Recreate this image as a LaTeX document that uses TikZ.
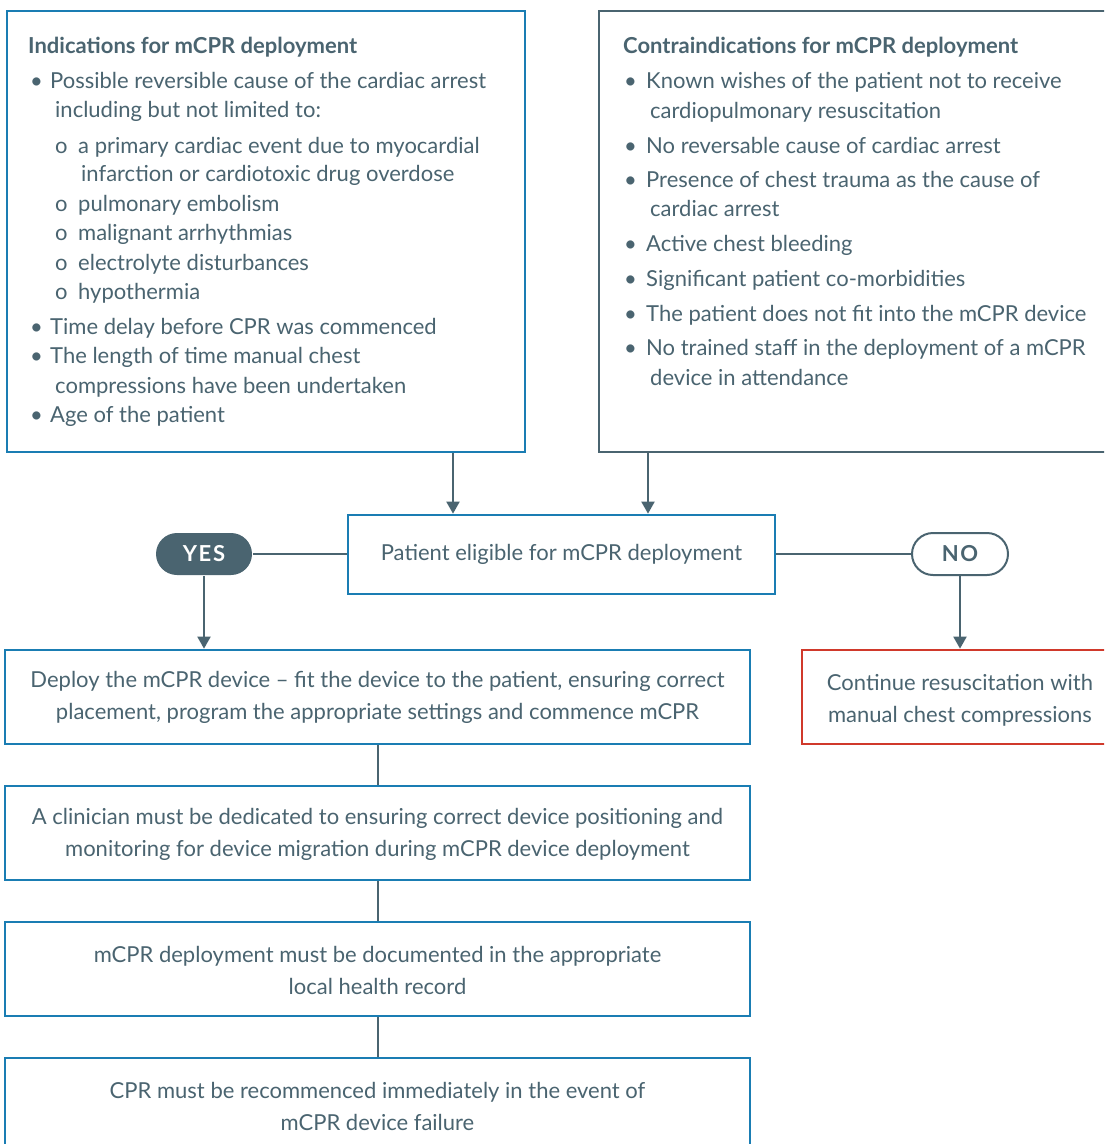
\documentclass[tikz,border=0pt]{standalone}
\usepackage{fontspec}
\setmainfont{Lato}
\newfontfamily\pillfont[LetterSpace=8]{Lato}
\usetikzlibrary{arrows.meta}
\definecolor{slate}{HTML}{4A6470}
\definecolor{bluebd}{HTML}{1A7DB3}
\definecolor{redbd}{HTML}{D0392B}
\tikzset{
  txt/.style={text=slate, font=\fontsize{22}{26}\selectfont, inner sep=0pt, anchor=base west},
  hd/.style={txt, font=\fontsize{22}{26}\selectfont\bfseries},
  bbox/.style={draw=bluebd, line width=2.7pt, inner sep=0pt},
  gbox/.style={draw=slate, line width=2.7pt, inner sep=0pt},
  rbox/.style={draw=redbd, line width=2.7pt, inner sep=0pt},
  ctext/.style={text=slate, font=\fontsize{22}{32}\selectfont, align=center, inner sep=0pt},
  conn/.style={draw=slate, line width=2pt},
  arr/.style={conn, -{Triangle[length=12pt,width=13pt]}},
  pill/.style={rounded corners=21pt, minimum width=96pt, minimum height=42pt, line width=2pt, font=\fontsize{22}{24}\pillfont\bfseries, inner sep=0pt},
}
\begin{document}
\begin{tikzpicture}[x=1pt,y=-1pt]
\clip (0,0) rectangle (1104,1144);
\fill[white] (0,0) rectangle (1104,1144);
% top boxes
\node[bbox, minimum width=518pt, minimum height=441pt] (ind) at (266,231.5) {};
\node[gbox, minimum width=511pt, minimum height=441pt] (contra) at (854.5,231.5) {};
% left text
\node[hd] (h1) at (28,53) {Indications for mCPR deployment};
\foreach \y/\t [count=\i] in {88/Possible reversible cause of the cardiac arrest, 334/Time delay before CPR was commenced, 363/The length of time manual chest, 422/Age of the patient}{
  \node[txt] (lb\i) at (30,\y) {•};
  \node[txt] (lt\i) at (50,\y) {\t};
}
\node[txt] (lc1) at (55,117) {including but not limited to:};
\node[txt] (lc2) at (55,393) {compressions have been undertaken};
\foreach \y/\t [count=\i] in {153/a primary cardiac event due to myocardial, 211/pulmonary embolism, 240/malignant arrhythmias, 270/electrolyte disturbances, 299/hypothermia}{
  \node[txt] (sb\i) at (55,\y) {o};
  \node[txt] (st\i) at (78,\y) {\t};
}
\node[txt] (sc1) at (81,181) {infarction or cardiotoxic drug overdose};
% right text
\node[hd] (h2) at (623,53) {Contraindications for mCPR deployment};
\foreach \y/\t [count=\i] in {88/Known wishes of the patient not to receive, 153/No reversable cause of cardiac arrest, 187/Presence of chest trauma as the cause of, 251/Active chest bleeding, 286/Significant patient co-morbidities, 321/The patient does not fit into the mCPR device, 355/No trained staff in the deployment of a mCPR}{
  \node[txt] (rb\i) at (624,\y) {•};
  \node[txt] (rt\i) at (646,\y) {\t};
}
\node[txt] (rc1) at (650,118) {cardiopulmonary resuscitation};
\node[txt] (rc2) at (650,216) {cardiac arrest};
\node[txt] (rc3) at (650,385) {device in attendance};
% decision
\node[bbox, minimum width=427pt, minimum height=79pt] (elig) at (561.5,554.5) {};
\node[ctext] (eligt) at (561.5,554) {Patient eligible for mCPR deployment};
\node[pill, fill=slate, text=white] (yes) at (204,554) {YES};
\node[pill, draw=slate, fill=white, text=slate] (no) at (960,554) {NO};
\coordinate (cx1) at (453,0);
\coordinate (cx2) at (648,0);
\draw[arr] (ind.south -| cx1) -- (elig.north -| cx1);
\draw[arr] (contra.south -| cx2) -- (elig.north -| cx2);
\draw[conn] (yes.east) -- (elig.west |- yes.east);
\draw[conn] (elig.east |- no.west) -- (no.west);
% lower boxes
\node[bbox, minimum width=745pt, minimum height=94pt] (dep) at (377.5,697) {};
\node[ctext] (dept) at (377.5,697) {Deploy the mCPR device – fit the device to the patient, ensuring correct\\placement, program the appropriate settings and commence mCPR};
\node[rbox, minimum width=308pt, minimum height=94pt] (cont) at (956,697) {};
\node[ctext] (contt) at (960,700) {Continue resuscitation with\\manual chest compressions};
\draw[arr] (yes.south) -- (yes.south |- dep.north);
\draw[arr] (no.south) -- (no.south |- cont.north);
\node[bbox, minimum width=745pt, minimum height=94pt] (clin) at (377.5,833) {};
\node[ctext] (clint) at (377.5,834) {A clinician must be dedicated to ensuring correct device positioning and\\monitoring for device migration during mCPR device deployment};
\node[bbox, minimum width=745pt, minimum height=94pt] (doc) at (377.5,969) {};
\node[ctext] (doct) at (377.5,970) {mCPR deployment must be documented in the appropriate\\local health record};
\node[bbox, minimum width=745pt, minimum height=94pt] (cpr) at (377.5,1105) {};
\node[ctext] (cprt) at (377.5,1106) {CPR must be recommenced immediately in the event of\\mCPR device failure};
\draw[conn] (dep.south) -- (clin.north);
\draw[conn] (clin.south) -- (doc.north);
\draw[conn] (doc.south) -- (cpr.north);
\end{tikzpicture}
\end{document}
